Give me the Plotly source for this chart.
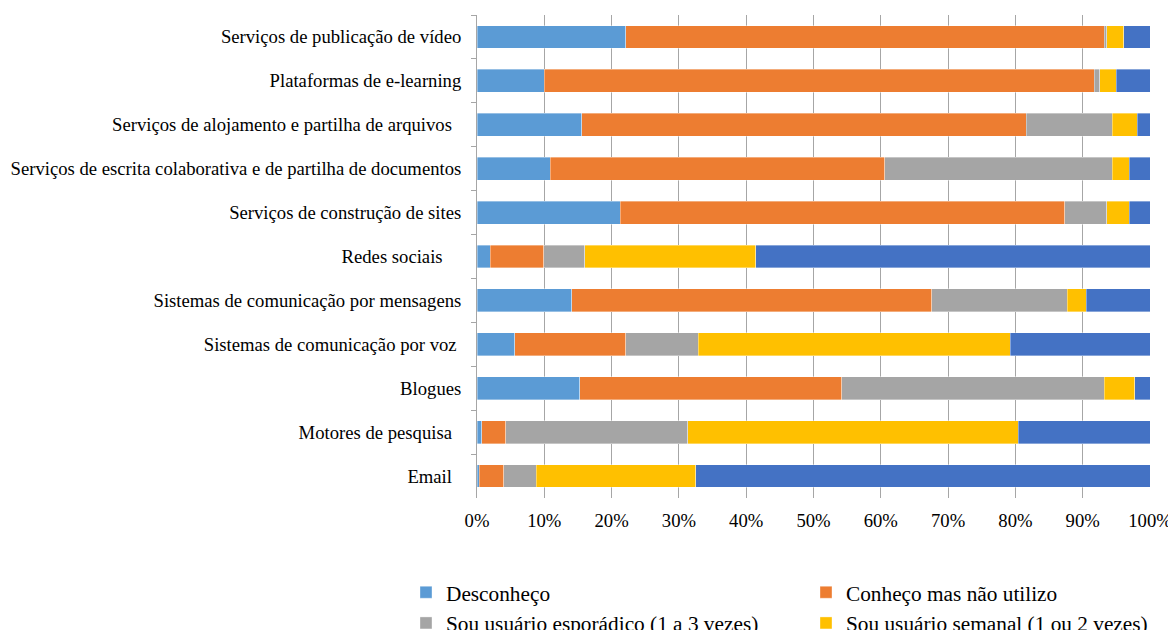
import plotly.graph_objects as go

NBSP = "\u00a0"
categories = [
    "Serviços de publicação de vídeo",
    "Plataformas de e-learning",
    "Serviços de alojamento e partilha de arquivos" + NBSP * 2,
    "Serviços de escrita colaborativa e de partilha de documentos",
    "Serviços de construção de sites",
    "Redes sociais" + NBSP * 4,
    "Sistemas de comunicação por mensagens",
    "Sistemas de comunicação por voz" + NBSP,
    "Blogues",
    "Motores de pesquisa" + NBSP * 2,
    "Email" + NBSP * 2,
]

desconheco = [22.1, 10.0, 15.6, 10.9, 21.3, 2.0, 14.1, 5.6, 15.3, 0.7, 0.3]
conheco_nao_utilizo = [71.1, 81.7, 66.0, 49.7, 66.0, 7.9, 53.5, 16.5, 38.9, 3.6, 3.7]
esporadico = [0.4, 0.8, 12.8, 33.8, 6.3, 6.1, 20.1, 10.8, 39.0, 27.0, 4.8]
semanal = [2.5, 2.5, 3.7, 2.5, 3.3, 25.4, 2.8, 46.3, 4.5, 49.1, 23.7]
diario = [3.9, 5.0, 1.9, 3.1, 3.1, 58.6, 9.5, 20.8, 2.3, 19.6, 67.5]

series = [
    ("Desconheço", desconheco, "#5B9BD5", True),
    ("Conheço mas não utilizo", conheco_nao_utilizo, "#ED7D31", True),
    ("Sou usuário esporádico (1 a 3 vezes)", esporadico, "#A5A5A5", True),
    ("Sou usuário semanal (1 ou 2 vezes)", semanal, "#FFC000", True),
    ("Sou usuário diário", diario, "#4472C4", False),
]

fig = go.Figure()
for name, vals, color, show in series:
    fig.add_trace(go.Bar(
        y=categories, x=vals, name=name, orientation="h",
        marker=dict(color=color, line=dict(color="rgba(255,255,255,0.6)", width=0.6)),
        showlegend=show,
    ))

font = "Liberation Serif, Times New Roman, serif"
fig.update_layout(
    barmode="stack",
    barnorm="percent",
    bargap=0.48,
    width=1168, height=622,
    paper_bgcolor="white", plot_bgcolor="white",
    font=dict(family=font, size=18.67, color="black"),
    margin=dict(l=469, r=26, t=7, b=132, autoexpand=False),
    legend=dict(
        orientation="h", x=-0.1055, xanchor="left", y=-0.153, yanchor="top",
        font=dict(size=21.3), entrywidth=355, entrywidthmode="pixels",
        traceorder="normal",
    ),
    xaxis=dict(
        range=[0, 100], tickvals=[0, 10, 20, 30, 40, 50, 60, 70, 80, 90, 100],
        ticktext=["0%", "10%", "20%", "30%", "40%", "50%", "60%", "70%", "80%", "90%", "100%"],
        showgrid=True, gridcolor="#A6A6A6", gridwidth=1,
        zeroline=False, showline=False, ticks="",
        tickfont=dict(size=18.67), ticklabelstandoff=9,
    ),
    yaxis=dict(
        autorange="reversed", showline=True, linecolor="#A6A6A6", linewidth=1,
        ticks="outside", tickson="boundaries", ticklen=5, tickcolor="#A6A6A6",
        showgrid=False, tickfont=dict(size=18.67), ticklabelstandoff=11,
    ),
)

fig.write_html("out.html")
